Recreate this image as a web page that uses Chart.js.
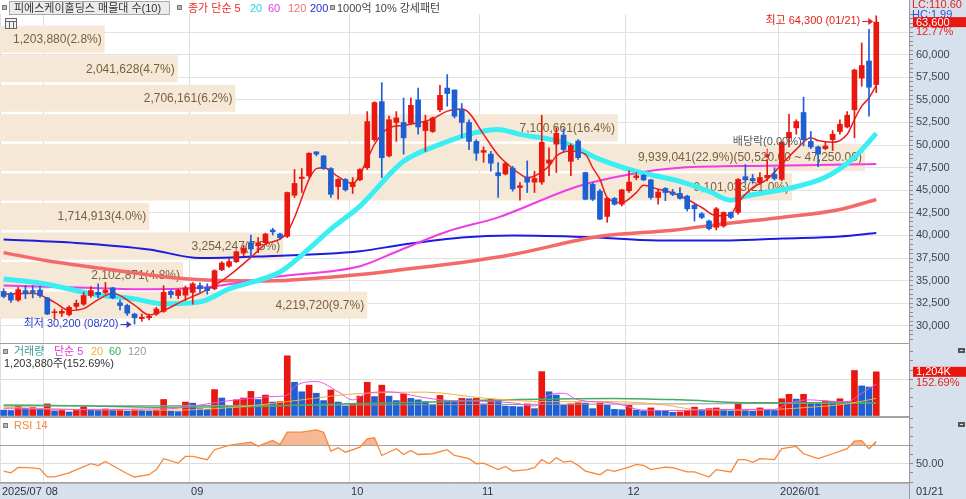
<!DOCTYPE html>
<html>
<head>
<meta charset="utf-8">
<title>피에스케이홀딩스</title>
<script src="https://cdn.jsdelivr.net/npm/chart.js@4.4.1/dist/chart.umd.min.js"></script>
<style>
  html, body { margin: 0; padding: 0; background: #fff; overflow: hidden; }
  #wrap { position: relative; width: 966px; height: 499px; }
  #wrap canvas, #wrap div { position: absolute; }
</style>
</head>
<body>
<div id="wrap">
  <div style="left:909px;top:0;width:57px;height:499px;background:#d7e1ee"></div>
  <div style="left:0;top:484px;width:966px;height:15px;background:#d7e1ee"></div>
  <canvas id="main" width="966" height="343" style="left:0;top:0"></canvas>
  <canvas id="vol" width="966" height="72" style="left:0;top:344px"></canvas>
  <canvas id="rsi" width="966" height="81" style="left:0;top:418px"></canvas>
  <div style="left:0;top:343px;width:909px;height:1px;background:#9c9c9c"></div>
  <div style="left:0;top:416px;width:909px;height:2px;background:#a4a4a4"></div>
  <div style="left:0;top:483px;width:909px;height:1px;background:#b4b4b4"></div>
  <div style="left:909px;top:0;width:1px;height:499px;background:#9a9a9a"></div>
</div>
<script>
// trading days, 2025/07/24 ~ 2026/01/21
const days = [
  '07/24','07/25','07/28','07/29','07/30','07/31',
  '08/01','08/04','08/05','08/06','08/07','08/08','08/11','08/12','08/13','08/14','08/18','08/19','08/20','08/21','08/22','08/25','08/26','08/27','08/28','08/29',
  '09/01','09/02','09/03','09/04','09/05','09/08','09/09','09/10','09/11','09/12','09/15','09/16','09/17','09/18','09/19','09/22','09/23','09/24','09/25','09/26','09/29','09/30',
  '10/01','10/02','10/10','10/13','10/14','10/15','10/16','10/17','10/20','10/21','10/22','10/23','10/24','10/27','10/28','10/29','10/30','10/31',
  '11/03','11/04','11/05','11/06','11/07','11/10','11/11','11/12','11/13','11/14','11/17','11/18','11/19','11/20','11/21','11/24','11/25','11/26','11/27','11/28',
  '12/01','12/02','12/03','12/04','12/05','12/08','12/09','12/10','12/11','12/12','12/15','12/16','12/17','12/18','12/19','12/22','12/23','12/24','12/26','12/29','12/30',
  '01/02','01/05','01/06','01/07','01/08','01/09','01/12','01/13','01/14','01/15','01/16','01/19','01/20','01/21'
];

const opens = [
  33800,33550,32850,33900,33900,33950,
  33100,31450,31400,31250,32150,32400,33350,33700,33700,34200,32550,32250,31300,30800,30900,31300,31600,33800,33350,33400,
  33700,34450,34250,34100,36200,36600,37100,38050,39200,38850,39200,40600,40150,39900,44450,46300,46600,49250,48800,47400,45400,46200,
  45400,46150,47500,50600,54800,48800,52500,52500,52400,55000,51600,51500,53900,56300,56100,53900,52500,50400,
  49200,49000,46950,46800,47450,45300,46400,45900,45900,48000,50100,51100,48200,50450,46950,45650,44900,42100,44100,43450,
  44950,46400,46650,46150,44200,45200,44800,44650,44350,43350,42400,41600,40900,41050,42550,42550,46500,46300,45850,46400,46750,
  46200,50800,51900,53600,50400,49800,49600,50600,51500,52000,53900,57400,59300,56700
];
const highs = [
  34100,33700,34250,34450,34450,34400,
  33150,31850,31850,32200,32850,33700,34350,34650,34800,34250,32850,32400,31400,31300,31300,32050,34450,33950,34100,34400,
  34800,34750,34650,36200,37100,37400,38300,38900,40050,39750,40250,40800,40250,44800,47300,47400,49150,49250,48850,47500,46300,46300,
  46400,47400,53700,54800,56900,53200,53700,55200,55200,56300,53300,53100,56600,57800,56100,54600,52800,50600,
  49800,49300,48050,48100,47650,45850,48250,47100,53300,49700,51900,51800,50100,50600,47000,45850,45100,44200,44200,45100,
  47150,46950,46750,46200,45100,45300,45100,45300,44450,43450,42550,41700,43100,42600,42600,46300,47850,46750,46950,48400,47500,
  50400,53400,52800,55300,51500,49900,50400,51600,52800,53700,58400,61300,62800,64300
];
const lows = [
  33100,32600,32700,33000,33100,33150,
  31250,30750,31050,31100,31850,32250,33150,33100,33550,33000,31750,31150,30200,30500,30650,31150,31500,33100,33000,32800,
  32400,33700,33500,34000,36100,36450,37000,37750,37550,38100,39050,40050,39600,39750,44200,44750,46400,48800,47300,44200,44000,44900,
  44650,46050,47300,50400,46400,48700,50400,49000,52300,51200,49300,51400,53700,54300,53000,50800,49500,48300,
  48100,47100,44200,46700,44900,43900,44750,44750,45650,46600,46950,49300,46600,48400,43950,43850,41750,41450,43350,43250,
  44750,46150,46050,44000,43450,43850,44400,44000,42700,41600,41850,40600,40600,40900,41850,42350,45900,45850,45650,46050,46150,
  46050,49800,51200,49900,49600,47600,49500,49400,51200,51900,50800,56500,53200,55800
];
const closes = [
  33250,32850,34000,33550,33700,33350,
  31300,31550,31600,32050,32500,33350,33900,33450,33950,33100,32250,31400,30900,30950,31050,31850,33700,33450,33950,34200,
  34650,34100,33900,36100,36950,37100,38200,38600,38500,39200,40150,40400,39750,44750,45750,46450,49100,49000,47400,44550,46200,45050,
  45850,47300,52600,54700,48600,52800,53000,50800,54400,52000,52600,53000,55500,55700,53200,52500,50400,49100,
  49400,48000,46600,47950,45150,45500,45900,46300,50300,48350,51300,49500,49950,48600,44000,44000,41800,44100,43450,45050,
  45900,46600,46150,44200,44800,44750,44550,44100,42950,42950,42000,40750,42950,42550,42000,46200,46150,46050,46400,46650,46300,
  50300,51400,52600,50600,49800,49000,49900,51200,52300,53300,58300,58800,56400,63600
];
const volumes = [
  160000,150000,270000,210000,230000,210000,
  330000,140000,150000,110000,150000,250000,160000,150000,190000,160000,180000,130000,160000,150000,140000,160000,450000,130000,120000,380000,
  350000,200000,180000,720000,490000,250000,440000,490000,670000,450000,570000,380000,390000,1640000,920000,660000,840000,620000,420000,710000,380000,270000,
  330000,540000,920000,530000,840000,540000,420000,600000,480000,440000,390000,310000,560000,420000,380000,480000,470000,480000,
  330000,460000,420000,270000,260000,250000,330000,200000,1210000,660000,570000,290000,330000,360000,350000,200000,350000,290000,180000,170000,
  290000,160000,140000,220000,140000,130000,100000,110000,150000,240000,150000,200000,220000,170000,140000,350000,160000,130000,220000,160000,150000,
  470000,590000,460000,590000,330000,320000,410000,400000,470000,390000,1240000,820000,788440,1203880
];

// price moving averages: day index / value
const ma5Day = [0,4,7,9,11,13,15,18,20,22,25,27,29,31,34,36,38,39,40,42,43,44,46,48,50,51,53,55,57,59,61,63,64,66,68,70,71,72,73,75,76,78,80,81,82,83,85,87,88,90,92,94,96,98,100,101,103,105,107,109,111,112,114,116,117,118,119,120];
const ma5Val = [33500,33600,32600,31700,31900,32900,33600,32300,31200,31700,32900,33600,34450,35550,37570,39040,39590,40330,41980,46210,47390,47500,46500,45750,48420,50070,51910,52170,52460,52900,53750,54000,53560,51180,48900,47400,46800,46400,46580,47680,48790,49340,48970,47500,46210,44190,43640,44740,45550,45110,44700,44000,43090,42170,42350,43640,45290,46210,47870,49520,50810,50500,50300,51200,52830,54300,55220,56600];
const ma20Day = [0,5,13,18,22,27,31,38,41,45,49,55,60,65,68,71,77,82,87,93,97,100,102,108,113,117,120];
const ma20Val = [35180,34740,33420,32980,32430,32650,34080,35950,37830,40700,43240,48200,50070,51400,51730,51180,50290,48420,47090,45990,44880,43900,44340,45220,46430,48640,51290];
const ma60Day = [0,10,20,27,38,49,54,61,68,79,86,93,105,116,120];
const ma60Val = [34460,34250,34050,34200,35490,36600,38200,40440,42000,45450,46750,47490,47700,47860,47900];
const ma120Day = [0,6,13,25,35,49,55,63,70,82,92,100,107,115,120];
const ma120Val = [38100,37200,36400,35200,34950,35680,36230,37010,37890,39900,40580,41380,41990,42880,43980];
const ma200Day = [0,10,20,27,35,49,55,63,70,80,90,100,107,115,120];
const ma200Val = [39550,39170,38450,37500,37670,38260,39000,39780,40000,39830,39440,39440,39660,39890,40270];

// volume moving averages
const vma5Day = [0,10,23,27,30,32,37,39,40,43,46,48,50,53,57,60,66,70,73,75,77,79,84,88,93,98,106,108,111,113,116,118,120];
const vma5Val = [200000,180000,200000,300000,390000,440000,530000,570000,800000,940000,660000,440000,620000,660000,530000,440000,400000,360000,270000,570000,620000,440000,350000,160000,150000,180000,180000,360000,440000,410000,390000,620000,870000];
const vma20Day = [0,9,23,32,41,48,58,66,75,84,91,95,102,106,111,116,120];
const vma20Val = [240000,180000,160000,240000,440000,600000,650000,490000,390000,390000,300000,180000,160000,180000,240000,330000,480000];
const vma60Day = [0,12,21,32,46,60,66,84,93,103,120];
const vma60Val = [300000,270000,240000,250000,330000,390000,430000,480000,440000,360000,360000];
const vma120Day = [0,66,120];
const vma120Val = [270000,310000,350000];

// RSI 14
const rsiDay = [0,1,2,4,5,6,7,9,12,13,14,17,18,20,21,22,24,25,26,28,29,31,34,35,37,38,39,41,43,44,45,46,47,49,50,51,52,54,55,56,57,59,61,62,64,65,66,68,69,70,72,73,74,75,76,77,78,79,80,82,83,84,86,87,88,89,91,92,94,95,97,98,100,101,102,103,104,106,107,109,110,112,114,116,117,118,119,120];
const rsiVal = [42,40,46,45.5,44.5,35.5,35.5,40,50,48,52.5,39,35.5,38,43.5,55.5,50.7,58,58,54.4,65.3,70,73.6,69.2,75.4,71,84.5,84.5,87,84.5,63.7,67.4,62.6,68.1,77.3,78.4,59,66.4,60.1,64.5,60.1,60.9,65.3,59,55.5,50,50.7,43.5,47.1,42,43.5,45.6,54.4,50,56.5,51.8,52.9,48.2,42,38,43.5,41.7,46.3,49.2,48.1,43.5,46.3,45.6,41,41,35.4,43.5,41,54.4,54.4,51.5,55.5,54.4,66.4,68.9,60.9,55.5,60.9,66.4,74.6,75.3,66.4,74.2];

// volume profile (매물대), bottom band first
const profileFrom = 30900;
const profileStep = 3270;
const profileVol = [4219720, 2102871, 3254247, 1714913, 9101033, 9939041, 7100661, 2706161, 2041628, 1203880];

const priceLabels = [30000, 32500, 35000, 37500, 40000, 42500, 45000, 47500, 50000, 52500, 55000, 57500, 60000];
const exDivDay = '12/29';

const RED = '#e8170f', BLUE = '#1e5fd2';
const F11 = '11px "Liberation Sans", "Noto Sans CJK KR"';
const F12 = '12px "Liberation Sans", "Noto Sans CJK KR"';

Chart.defaults.font.family = '"Liberation Sans", "Noto Sans CJK KR", sans-serif';
Chart.defaults.font.size = 11;
Chart.defaults.animation = false;
Chart.defaults.events = [];
Chart.defaults.plugins.legend.display = false;
Chart.defaults.plugins.tooltip.enabled = false;

const labels = days.concat(['', '', '', '']);
const monthStarts = days.map((d, i) => (i === 0 || d.slice(0, 2) !== days[i - 1].slice(0, 2)) ? i : -1).filter(i => i >= 0);
const monthText = i => i === 0 ? '2025/' + days[i].slice(0, 2) : (days[i].slice(0, 2) === '01' ? '2026/01' : days[i].slice(0, 2));

const comma = n => String(n).replace(/\B(?=(\d{3})+(?!\d))/g, ',');
const fix2 = n => comma(Math.floor(n)) + '.' + n.toFixed(2).split('.')[1];

function spread(dayIdx, vals) {
  const out = new Array(labels.length).fill(null);
  dayIdx.forEach((d, k) => { out[d] = vals[k]; });
  return out;
}

const up = closes.map((c, i) => c >= opens[i]);
const candleColor = up.map(u => u ? RED : BLUE);
const volColor = volumes.map((v, i) => i > 0 && v > volumes[i - 1] ? RED : BLUE);

function xAxis() {
  return {
    type: 'category', offset: true,
    ticks: { display: false, autoSkip: false },
    grid: {
      offset: true, drawTicks: false,
      color: c => (c.tick && monthStarts.includes(c.index)) ? '#dedede' : 'transparent'
    },
    border: { display: false }
  };
}

function rightAxis(min, max, tickVals, gridFn) {
  return {
    position: 'right', min, max,
    afterFit: s => { s.width = 57; },
    afterBuildTicks: s => { s.ticks = tickVals.map(v => ({ value: v })); },
    ticks: { display: false },
    grid: { color: c => c.tick ? gridFn(c.tick.value) : 'transparent', drawTicks: true, tickLength: 4, tickColor: '#8a8a8a' },
    border: { display: false }
  };
}

function line(data, color, width) {
  return { type: 'line', data, borderColor: color, borderWidth: width, pointRadius: 0, spanGaps: true,
           cubicInterpolationMode: 'monotone', fill: false };
}

function text(ctx, s, x, y, color, align, font) {
  ctx.font = font || F11;
  ctx.fillStyle = color;
  ctx.textAlign = align || 'left';
  ctx.textBaseline = 'middle';
  ctx.fillText(s, x, y);
}

function square(ctx, x, y) {
  ctx.fillStyle = '#b8b8b8';
  ctx.fillRect(x, y, 5, 5);
  ctx.strokeStyle = '#7a7a7a';
  ctx.lineWidth = 1;
  ctx.strokeRect(x + 0.5, y + 0.5, 4, 4);
}

function panelIcon(ctx, x, y) {
  ctx.fillStyle = '#555';
  ctx.fillRect(x, y, 7, 5);
  ctx.fillStyle = '#ddd';
  ctx.fillRect(x + 2, y + 2, 3, 1);
}

// price ticks every 500 for the axis marks
const priceTicks = [];
for (let v = 28500; v <= 64500; v += 500) priceTicks.push(v);

const profilePlugin = {
  id: 'profile',
  beforeDatasetsDraw(chart) {
    const { ctx, chartArea: a, scales: { y } } = chart;
    const total = profileVol.reduce((s, v) => s + v, 0);
    const most = Math.max(...profileVol);
    const full = most * 1.051;
    ctx.save();
    profileVol.forEach((v, k) => {
      const lo = profileFrom + k * profileStep, hi = lo + profileStep;
      const y0 = y.getPixelForValue(hi) + 3.5, y1 = y.getPixelForValue(lo) + 1;
      const x0 = a.left, x1 = a.left + (a.right - a.left) * v / full;
      ctx.fillStyle = '#f5e8d7';
      ctx.fillRect(x0, y0, x1 - x0, y1 - y0);
      let s = comma(v) + '(' + (v / total * 100).toFixed(1) + '%)';
      if (v === most) s += '(' + fix2(hi) + ' ~ ' + fix2(lo) + ')';
      text(ctx, s, x1 - 3, (y0 + y1) / 2 + 0.5, '#7a6040', 'right', F12);
    });
    ctx.restore();
  }
};

const mainText = {
  id: 'mainText',
  afterDatasetsDraw(chart) {
    const { ctx, chartArea: a, scales: { x, y } } = chart;
    ctx.save();
    const arrowLabel = (s, color, idx, price) => {
      const px = x.getPixelForValue(idx);
      const py = Math.max(y.getPixelForValue(price), a.top + 7);
      text(ctx, s, px - 16, py, color, 'right');
      ctx.strokeStyle = color; ctx.lineWidth = 1;
      ctx.beginPath(); ctx.moveTo(px - 14, py + 0.5); ctx.lineTo(px - 7, py + 0.5); ctx.stroke();
      ctx.beginPath(); ctx.moveTo(px - 3, py + 0.5); ctx.lineTo(px - 8, py - 3); ctx.lineTo(px - 8, py + 4); ctx.closePath(); ctx.fill();
    };
    const hiIdx = highs.indexOf(Math.max(...highs));
    const loIdx = lows.indexOf(Math.min(...lows));
    arrowLabel('최고 ' + comma(highs[hiIdx]) + ' (' + days[hiIdx] + ')', '#e3201a', hiIdx, highs[hiIdx]);
    arrowLabel('최저 ' + comma(lows[loIdx]) + ' (' + days[loIdx] + ')', '#2a3ed6', loIdx, lows[loIdx]);

    const di = days.indexOf(exDivDay);
    const dx = x.getPixelForValue(di), dy = y.getPixelForValue(highs[di]);
    text(ctx, '배당락(0.00%)', dx, dy - 18, '#555', 'center');
    ctx.strokeStyle = '#e3201a'; ctx.fillStyle = '#e3201a'; ctx.lineWidth = 1;
    ctx.beginPath(); ctx.moveTo(dx, dy - 11); ctx.lineTo(dx, dy - 4); ctx.stroke();
    ctx.beginPath(); ctx.moveTo(dx - 3.5, dy - 5); ctx.lineTo(dx + 3.5, dy - 5); ctx.lineTo(dx, dy - 1); ctx.closePath(); ctx.fill();
    ctx.restore();
  },
  afterDraw(chart) {
    const { ctx, chartArea: a, scales: { y } } = chart;
    ctx.save();
    // legend row
    square(ctx, 2, 5);
    ctx.fillStyle = '#ececec'; ctx.fillRect(9, 1, 161, 14);
    ctx.strokeStyle = '#a8a8a8'; ctx.strokeRect(9.5, 1.5, 160, 13);
    text(ctx, '피에스케이홀딩스 매물대 수(10)', 14, 8.5, '#333');
    square(ctx, 177, 5);
    text(ctx, '종가 단순 5', 188, 8.5, '#ec2c22');
    text(ctx, '20', 250, 8.5, '#22d6e6');
    text(ctx, '60', 268, 8.5, '#e03ce0');
    text(ctx, '120', 288, 8.5, '#f07272');
    text(ctx, '200', 310, 8.5, '#2a2ae0');
    square(ctx, 330, 5);
    text(ctx, '1000억 10% 강세패턴', 337, 8.5, '#444');
    // small table icon
    ctx.fillStyle = '#f2f2f2'; ctx.fillRect(5, 18, 12, 11);
    ctx.strokeStyle = '#666'; ctx.strokeRect(5.5, 18.5, 11, 10);
    ctx.beginPath();
    ctx.moveTo(5.5, 21.5); ctx.lineTo(16.5, 21.5);
    ctx.moveTo(9.5, 21.5); ctx.lineTo(9.5, 28.5);
    ctx.moveTo(13.5, 21.5); ctx.lineTo(13.5, 28.5);
    ctx.stroke();
    // right axis labels
    priceLabels.forEach(v => text(ctx, comma(v), a.right + 7, y.getPixelForValue(v), '#444'));
    text(ctx, 'LC:110.60', a.right + 3, 5, '#e3201a');
    text(ctx, 'HC:1.99', a.right + 3, 15, '#3050d0');
    const last = closes[closes.length - 1], prev = closes[closes.length - 2];
    const ly = y.getPixelForValue(last);
    ctx.fillStyle = '#e8170f'; ctx.fillRect(a.right + 4, ly - 5, 57, 10);
    text(ctx, comma(last), a.right + 7, ly + 0.5, '#fff');
    text(ctx, ((last / prev - 1) * 100).toFixed(2) + '%', a.right + 7, ly + 10, '#e3201a');
    ctx.restore();
  }
};

new Chart(document.getElementById('main'), {
  type: 'bar',
  data: {
    labels,
    datasets: [
      { type: 'bar', data: opens.map((o, i) => [o, closes[i]]), backgroundColor: candleColor, barThickness: 5, grouped: false, minBarLength: 1, borderWidth: 0 },
      { type: 'bar', data: lows.map((l, i) => [l, highs[i]]), backgroundColor: candleColor, barThickness: 1, grouped: false, borderWidth: 0 },
      line(spread(ma5Day, ma5Val), '#ee1c1c', 1.5),
      line(spread(ma20Day, ma20Val), '#3aeef2', 5),
      line(spread(ma60Day, ma60Val), '#f03ce6', 2),
      line(spread(ma120Day, ma120Val), '#f46a6a', 3.5),
      line(spread(ma200Day, ma200Val), '#1c1ce0', 2)
    ]
  },
  options: {
    responsive: false, devicePixelRatio: 1,
    layout: { padding: { top: 14, left: 0, right: 0, bottom: 0 } },
    scales: {
      x: xAxis(),
      y: rightAxis(28100, 64500, priceTicks, v => v % 2500 === 0 ? '#e2e2e2' : 'transparent')
    }
  },
  plugins: [profilePlugin, mainText]
});

// volume panel
const volTicks = [0, 250000, 500000, 750000, 1000000, 1250000, 1500000, 1750000];
const volText = {
  id: 'volText',
  afterDraw(chart) {
    const { ctx, chartArea: a, scales: { y } } = chart;
    ctx.save();
    square(ctx, 3, 5);
    text(ctx, '거래량', 14, 7.5, '#3a9e9e');
    text(ctx, '단순 5', 54, 7.5, '#e040d8');
    text(ctx, '20', 91, 7.5, '#f0b030');
    text(ctx, '60', 109, 7.5, '#3caa5a');
    text(ctx, '120', 128, 7.5, '#999');
    const last = volumes[volumes.length - 1], prev = volumes[volumes.length - 2];
    const pct = (last / prev * 100).toFixed(2) + '%';
    text(ctx, comma(last) + '주(' + pct + ')', 4, 19.5, '#333');
    const ly = y.getPixelForValue(last);
    ctx.fillStyle = '#e8170f'; ctx.fillRect(a.right + 4, ly - 5, 57, 10);
    text(ctx, comma(Math.round(last / 1000)) + 'K', a.right + 7, ly + 0.5, '#fff');
    text(ctx, pct, a.right + 7, ly + 11, '#e3201a');
    panelIcon(ctx, 958, 4);
    ctx.restore();
  }
};

new Chart(document.getElementById('vol'), {
  type: 'bar',
  data: {
    labels,
    datasets: [
      line(spread(vma5Day, vma5Val), '#ee55dd', 1),
      line(spread(vma20Day, vma20Val), '#f2b23a', 1),
      line(spread(vma60Day, vma60Val), '#44aa66', 1.5),
      line(spread(vma120Day, vma120Val), '#999999', 1),
      { type: 'bar', data: volumes, backgroundColor: volColor, barThickness: 6, borderWidth: 0 }
    ]
  },
  options: {
    responsive: false, devicePixelRatio: 1,
    layout: { padding: 0 },
    scales: {
      x: xAxis(),
      y: rightAxis(0, 1962000, volTicks, v => v === 1000000 ? '#dedede' : 'transparent')
    }
  },
  plugins: [volText]
});

// RSI panel + date axis
const rsiTicks = [30, 40, 50, 60, 70, 80, 90, 100];
const rsiText = {
  id: 'rsiText',
  afterDraw(chart) {
    const { ctx, chartArea: a, scales: { x, y } } = chart;
    ctx.save();
    square(ctx, 3, 5);
    text(ctx, 'RSI 14', 14, 7.5, '#f5883c');
    text(ctx, '50.00', a.right + 7, y.getPixelForValue(50), '#444');
    panelIcon(ctx, 958, 4);
    const half = (x.getPixelForValue(1) - x.getPixelForValue(0)) / 2;
    monthStarts.forEach(i => text(ctx, monthText(i), x.getPixelForValue(i) - half + 2, 73.5, '#333'));
    text(ctx, days[days.length - 1], a.right + 7, 73.5, '#333');
    ctx.restore();
  }
};

new Chart(document.getElementById('rsi'), {
  type: 'line',
  data: {
    labels,
    datasets: [{
      data: spread(rsiDay, rsiVal), borderColor: '#f7873a', borderWidth: 1.3, pointRadius: 0, spanGaps: true,
      fill: { target: { value: 70 }, above: 'rgba(244,160,112,0.75)', below: 'rgba(0,0,0,0)' }
    }]
  },
  options: {
    responsive: false, devicePixelRatio: 1,
    layout: { padding: { top: 0, left: 0, right: 0, bottom: 17 } },
    scales: {
      x: xAxis(),
      y: rightAxis(30, 100, rsiTicks, v => v === 70 || v === 30 ? '#a0a0a0' : (v === 50 ? '#dcdcdc' : 'transparent'))
    }
  },
  plugins: [rsiText]
});
</script>
</body>
</html>
